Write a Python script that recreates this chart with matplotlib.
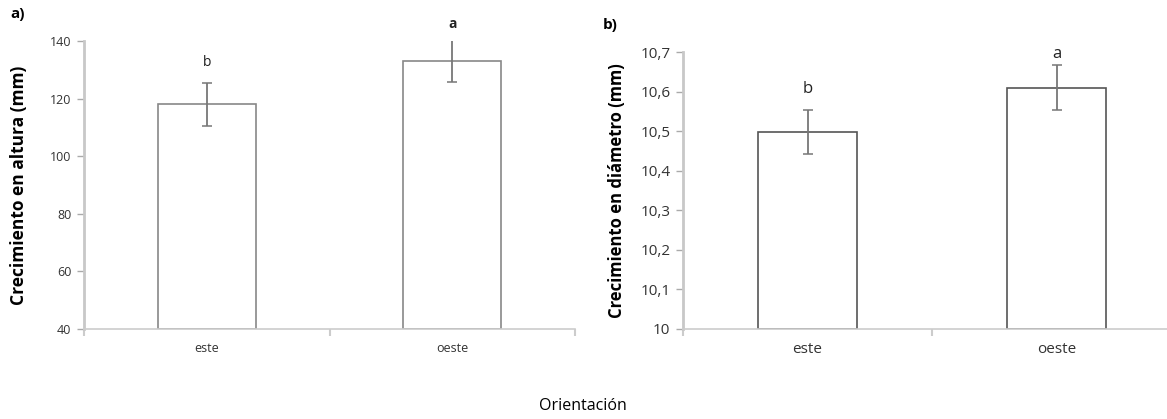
import matplotlib.pyplot as plt
import numpy as np

# data
categories = ["este", "oeste"]
altura_mean = [118.0, 133.0]
altura_err = [7.5, 7.3]
altura_letters = ["b", "a"]
altura_letter_y = [132.7, 145.9]

diametro_mean = [10.498, 10.61]
diametro_err = [0.055, 0.057]
diametro_letters = ["b", "a"]
diametro_letter_y = [10.607, 10.695]

plt.rcParams['font.family'] = ['Open Sans', 'DejaVu Sans']

W, H = 1167, 419
fig = plt.figure(figsize=(W / 100, H / 100), dpi=100)


def px_axes(left, top, right, bottom):
    return fig.add_axes([left / W, 1 - bottom / H, (right - left) / W, (bottom - top) / H])


def bar_panel(ax, means, errs, letters, letter_y, ylim, yticks, ytl, tick_fs, edge, bold_a):
    x = np.arange(len(categories))
    ax.bar(x, [m - ylim[0] for m in means], bottom=ylim[0], width=0.4,
           color='white', edgecolor=edge, linewidth=1.2, zorder=2)
    ax.errorbar(x, means, yerr=errs, fmt='none', ecolor='#777777',
                elinewidth=1.3, capsize=3.5, capthick=1.1, zorder=3)
    for i, (lab, ly) in enumerate(zip(letters, letter_y)):
        fw = 'bold' if (bold_a and lab == 'a') else 'normal'
        ax.text(x[i], ly, lab, ha='center', va='center', fontsize=tick_fs + 1,
                fontweight=fw, color='#222222', clip_on=False)
    ax.set_xlim(-0.5, len(categories) - 0.5)
    ax.set_ylim(*ylim)
    ax.set_yticks(yticks)
    ax.set_yticklabels(ytl, fontsize=tick_fs, color='#333333')
    ax.set_xticks(x)
    ax.set_xticklabels(categories, fontsize=tick_fs, color='#333333')
    ax.tick_params(axis='x', length=0, pad=9)
    ax.set_xticks([-0.5, 0.5, 1.5], minor=True)
    ax.tick_params(axis='x', which='minor', length=5, color='#cccccc', width=1.5)
    ax.tick_params(axis='y', length=5, color='#aaaaaa', width=1, pad=4)
    for s in ['top', 'right']:
        ax.spines[s].set_visible(False)
    ax.spines['left'].set_color('#c8c8c8')
    ax.spines['left'].set_linewidth(2)
    ax.spines['bottom'].set_color('#cccccc')
    ax.spines['bottom'].set_linewidth(1.2)


ax1 = px_axes(84, 41, 575, 329)
bar_panel(ax1, altura_mean, altura_err, altura_letters, altura_letter_y,
          (40, 140), [40, 60, 80, 100, 120, 140],
          ["40", "60", "80", "100", "120", "140"], 9, '#888888', True)
ax1.set_ylabel("Crecimiento en altura (mm)", fontsize=12.5, fontweight='bold')
ax1.yaxis.set_label_coords(-0.114, 0.5)

ax2 = px_axes(683, 52, 1181, 329)
yt2 = [10.0, 10.1, 10.2, 10.3, 10.4, 10.5, 10.6, 10.7]
bar_panel(ax2, diametro_mean, diametro_err, diametro_letters, diametro_letter_y,
          (10.0, 10.7), yt2,
          ["10", "10,1", "10,2", "10,3", "10,4", "10,5", "10,6", "10,7"], 11, '#555555', False)
ax2.set_ylabel("Crecimiento en diámetro (mm)", fontsize=12, fontweight='bold')
ax2.yaxis.set_label_coords(-0.115, 0.5)

fig.text(10 / W, 1 - 14 / H, "a)", fontsize=11, fontweight='bold', va='center', ha='left')
fig.text(603 / W, 1 - 25 / H, "b)", fontsize=11, fontweight='bold', va='center', ha='left')
fig.text(583 / W, 1 - 406 / H, "Orientación", fontsize=11.5, va='center', ha='center')

fig.savefig("out.png", dpi=100)
